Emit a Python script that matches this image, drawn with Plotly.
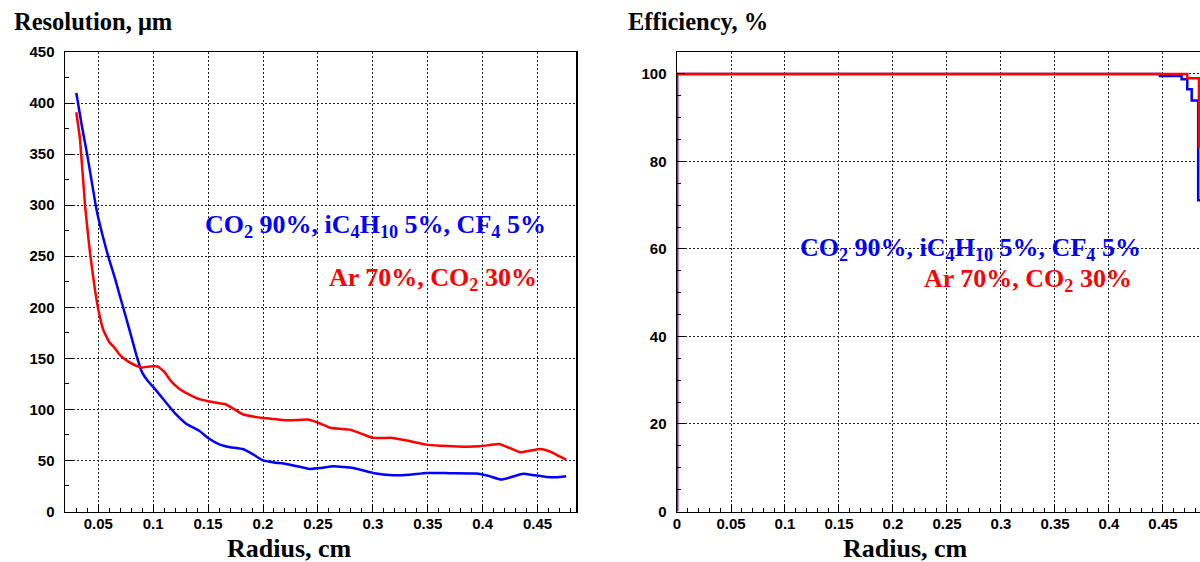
import plotly.graph_objects as go

# ---------------- data ----------------
# Resolution vs radius, Ar 70% CO2 30% (red)
res_x_ar = [0.030, 0.0334, 0.038, 0.0425, 0.047, 0.050, 0.0545, 0.060, 0.065, 0.070, 0.077,
            0.084, 0.090, 0.097, 0.104, 0.110, 0.116, 0.124, 0.132, 0.142, 0.150, 0.160,
            0.166, 0.174, 0.182, 0.191, 0.200, 0.210, 0.221, 0.231, 0.240, 0.249, 0.261,
            0.270, 0.279, 0.290, 0.300, 0.309, 0.318, 0.333, 0.349, 0.361, 0.373, 0.385,
            0.397, 0.406, 0.415, 0.425, 0.434, 0.443, 0.452, 0.458, 0.464, 0.470, 0.476]
res_ar = [391, 364, 299, 253, 217, 198, 178, 166, 160, 153, 147,
          143, 141, 142, 142, 137, 128, 120, 115, 110, 108, 106,
          105, 100, 95, 93, 91.6, 90.5, 89.3, 89.5, 90, 87.4, 82,
          81, 80.2, 76, 72.1, 72, 72.1, 69, 65.5, 64.5, 63.9, 63.5,
          63.9, 65, 66.2, 62, 58, 59.5, 61.3, 60, 57.4, 54, 50.9]

# Resolution vs radius, CO2 90% iC4H10 5% CF4 5% (blue)
res_x_co2 = [0.030, 0.035, 0.040, 0.0485, 0.054, 0.059, 0.065, 0.0697, 0.075, 0.0804, 0.085,
             0.090, 0.095, 0.100, 0.110, 0.120, 0.130, 0.1425, 0.150, 0.1607, 0.170, 0.182,
             0.191, 0.200, 0.210, 0.221, 0.2427, 0.252, 0.264, 0.282, 0.300, 0.318, 0.333,
             0.349, 0.370, 0.394, 0.405, 0.417, 0.427, 0.437, 0.447, 0.458, 0.467, 0.476]
res_co2 = [410, 378, 349, 295, 270, 250, 229, 211, 191, 170, 152,
           136, 128, 122, 109, 96, 86, 78.6, 72, 65.5, 63, 61,
           56, 50, 48, 46.6, 41.7, 42.5, 44.3, 42.7, 37.8, 35.5, 36,
           37.8, 37.5, 37.2, 35, 31.3, 34, 36.9, 35.5, 33.9, 33.5, 34.5]

# Efficiency vs radius (step histograms)
eff_x_ar = [0.0, 0.0, 0.4725, 0.4833, 0.490]
eff_ar = [0, 100, 99.0, 83.3, 83.3]
eff_x_co2 = [0.0, 0.0, 0.4472, 0.4673, 0.4725, 0.4766, 0.4826, 0.490]
eff_co2 = [0, 100, 99.5, 98.8, 96.5, 93.9, 71.1, 71.1]

res_yticks = [0, 50, 100, 150, 200, 250, 300, 350, 400, 450]
eff_yticks = [0, 20, 40, 60, 80, 100]
res_xticks = [0.05, 0.1, 0.15, 0.2, 0.25, 0.3, 0.35, 0.4, 0.45]
eff_xticks = [0, 0.05, 0.1, 0.15, 0.2, 0.25, 0.3, 0.35, 0.4, 0.45]

# ---------------- layout helpers ----------------
W, H = 1200, 562
def fx(p):
    return p / W
def fy(p):
    return 1 - p / H

BLUE = "#0000ff"
RED = "#ff0000"
SANS = "Liberation Sans, Arial, sans-serif"
SERIF = "Liberation Serif, Times New Roman, serif"

fig = go.Figure()
fig.add_trace(go.Scatter(x=res_x_co2, y=res_co2, mode="lines", xaxis="x", yaxis="y",
                         line=dict(color=BLUE, width=2.5, shape="spline", smoothing=0.4)))
fig.add_trace(go.Scatter(x=res_x_ar, y=res_ar, mode="lines", xaxis="x", yaxis="y",
                         line=dict(color=RED, width=2.5, shape="spline", smoothing=0.4)))
fig.add_trace(go.Scatter(x=eff_x_co2, y=eff_co2, mode="lines", xaxis="x2", yaxis="y2",
                         line=dict(color=BLUE, width=2.5, shape="hv")))
fig.add_trace(go.Scatter(x=eff_x_ar, y=eff_ar, mode="lines", xaxis="x2", yaxis="y2",
                         line=dict(color=RED, width=2.5, shape="hv")))

ydom = [fy(511.5), fy(52)]

def axis(**kw):
    d = dict(showline=True, linecolor="black", linewidth=1.5, ticks="inside", ticklen=8,
             tickcolor="black", tickwidth=1, showgrid=True, gridcolor="#222",
             griddash="2px,2px", gridwidth=1, zeroline=False, automargin=False,
             tickfont=dict(family=SANS, size=15, color="black", weight="bold"))
    d.update(kw)
    return d

fig.update_layout(
    width=W, height=H, margin=dict(l=0, r=0, t=0, b=0),
    paper_bgcolor="white", plot_bgcolor="white", showlegend=False,
    xaxis=axis(domain=[fx(65), fx(576)], range=[0.0197, 0.485], anchor="y", mirror=True,
               tickvals=res_xticks, ticklabelstandoff=-2,
               minor=dict(dtick=0.01, tick0=0, ticks="inside", ticklen=4, tickcolor="black", showgrid=False)),
    yaxis=axis(domain=ydom, range=[0, 450], anchor="x", mirror=True,
               tickvals=res_yticks, ticklabelstandoff=6,
               minor=dict(dtick=25, tick0=0, ticks="inside", ticklen=4, tickcolor="black", showgrid=False)),
    xaxis2=axis(domain=[fx(677), 1.0], range=[0, 0.4843], anchor="y2", mirror=True,
                tickvals=eff_xticks, ticklabelstandoff=-2,
                minor=dict(dtick=0.01, tick0=0, ticks="inside", ticklen=4, tickcolor="black", showgrid=False)),
    yaxis2=axis(domain=ydom, range=[0, 105], anchor="x2", mirror=False,
                tickvals=eff_yticks, ticklabelstandoff=6,
                minor=dict(dtick=5, tick0=0, ticks="inside", ticklen=4, tickcolor="black", showgrid=False)),
)

def ann(text, x, y, size, color, xanchor="center"):
    fig.add_annotation(text=text, x=fx(x), y=fy(y), xref="paper", yref="paper",
                       xanchor=xanchor, yanchor="middle", showarrow=False,
                       font=dict(family=SERIF, size=size, color=color, weight="bold"))

co2_txt = "CO<sub>2</sub> 90%, iC<sub>4</sub>H<sub>10</sub> 5%, CF<sub>4</sub> 5%"
ar_txt = "Ar 70%, CO<sub>2</sub> 30%"

ann("Resolution, μm", 12, 21, 24.5, "black", xanchor="left")
ann("Efficiency, %", 626, 21, 24.5, "black", xanchor="left")
ann("Radius, cm", 289, 548, 26, "black")
ann("Radius, cm", 905, 548, 26, "black")
ann(co2_txt, 375, 226, 26, BLUE)
ann(ar_txt, 433, 279, 26, RED)
ann(co2_txt, 970, 249, 26, BLUE)
ann(ar_txt, 1028, 280, 26, RED)

# remove the default 8px page margin so the 1200x562 figure fills the window exactly
fig.write_html("out.html", config={"displayModeBar": False, "staticPlot": True},
               post_script="document.body.style.margin='0px';")
